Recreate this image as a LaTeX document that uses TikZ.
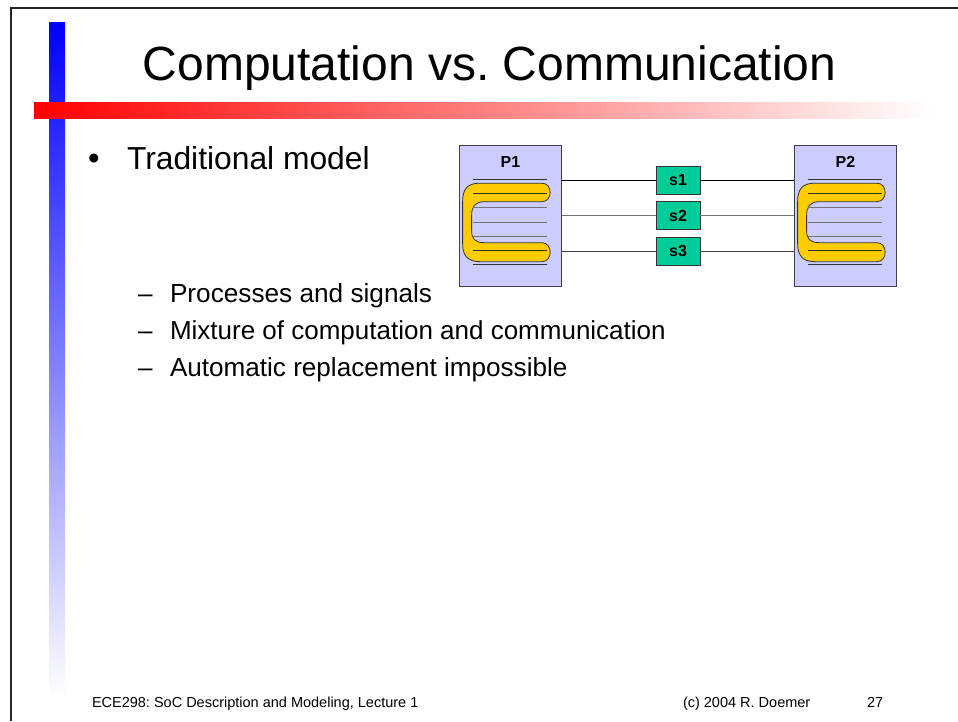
\documentclass[tikz,border=0pt]{standalone}
\usepackage{fontspec}
\setmainfont{Liberation Sans}
\usetikzlibrary{calc}
\frenchspacing

\definecolor{procfill}{HTML}{CCCCFF}
\definecolor{sigfill}{HTML}{00CC99}
\definecolor{ctrlfill}{HTML}{FFCC00}
\newcommand{\fsz}[1]{\fontsize{#1}{#1}\selectfont}

\begin{document}
\begin{tikzpicture}[x=1pt,y=-1pt,
  txt/.style={inner sep=0pt, outer sep=0pt, anchor=base west},
  proc/.style={draw=black!75, line width=0.8pt, fill=procfill,
    minimum width=102.4pt, minimum height=141.7pt, inner sep=0pt},
  plabel/.style={inner sep=0pt, anchor=base, font=\bfseries\fsz{16}},
  sig/.style={draw=black!80, line width=0.8pt, fill=sigfill,
    minimum width=44pt, minimum height=28pt, inner sep=0pt,
    font=\bfseries\fsz{16}},
  wire/.style={line width=1pt},
  rule/.style={line width=1pt, black!80},
  ctrl/.style={fill=ctrlfill, draw=black!80, line width=0.8pt}
]
\useasboundingbox (0,0) rectangle (958,721);
\fill[white] (0,0) rectangle (958,721);

% slide decoration: vertical blue fade and horizontal red fade
\shade[top color=blue, bottom color=white] (49,22) rectangle (65,698);
\shade[left color=red, right color=white] (34,102) rectangle (932,118);

% frame edges
\draw[line width=2pt, black!85] (958,7.5) -- (10.5,7.5) -- (10.5,721);

% title
\node[inner sep=0pt, anchor=base, font=\fsz{48}] (title) at (489.5,80)
  {Computation vs. Communication};

% bullet list
\node[txt, font=\fsz{33}] (b1) at (88,169) {\textbullet};
\node[txt, font=\fsz{31.8}] (t1) at (127,169) {Traditional model};
\node[txt, font=\fsz{26}] (d1) at (138,302) {–};
\node[txt, font=\fsz{26.2}] (t2) at (170,302) {Processes and signals};
\node[txt, font=\fsz{26}] (d2) at (138,339) {–};
\node[txt, font=\fsz{26}] (t3) at (170,339) {Mixture of computation and communication};
\node[txt, font=\fsz{26}] (d3) at (138,376) {–};
\node[txt, font=\fsz{26.1}] (t4) at (170,376) {Automatic replacement impossible};

% processes
\node[proc] (P1) at (510.5,215.9) {};
\node[proc] (P2) at (845.5,215.9) {};

\foreach \p in {P1,P2}{
  \begin{scope}[shift={(\p.north west)}]
    % control flow loop
    \path[ctrl] (21,38.5) -- (83,38.5)
      .. controls (94,38.5) and (94,57) .. (83,57)
      -- (25,57) .. controls (16,57.3) and (12.7,62) .. (12.7,71)
      -- (12.7,86) .. controls (12.7,94) and (16,98) .. (25,98)
      -- (83,98) .. controls (94,98) and (94,117) .. (83,117)
      -- (21,117) .. controls (8,117) and (3.7,110) .. (3.7,99)
      -- (3.7,57) .. controls (3.7,45) and (8,38.5) .. (21,38.5) -- cycle;
    % statement lines
    \foreach \yy in {35,49,106,120}
      \draw[rule] (14,\yy) -- (88,\yy);
    \foreach \yy in {63,77.5,92}
      \draw[rule, black!55] (14,\yy) -- (88,\yy);
  \end{scope}
}
\node[plabel] (P1t) at ([yshift=-23pt]P1.north) {P1};
\node[plabel] (P2t) at ([yshift=-23pt]P2.north) {P2};

% signals
\node[sig] (s1) at (678,180) {s1};
\node[sig] (s2) at (678,215.5) {s2};
\node[sig] (s3) at (678,251) {s3};

\draw[wire] (P1.east |- s1.west) -- (s1.west);
\draw[wire] (s1.east) -- (P2.west |- s1.east);
\draw[wire, black!55] (P1.east |- s2.west) -- (s2.west);
\draw[wire, black!55] (s2.east) -- (P2.west |- s2.east);
\draw[wire, black!75] (P1.east |- s3.west) -- (s3.west);
\draw[wire, black!75] (s3.east) -- (P2.west |- s3.east);

% footer
\node[txt, font=\fsz{14.5}] (f1) at (92,707) {ECE298: SoC Description and Modeling, Lecture 1};
\node[txt, font=\fsz{14.5}] (f2) at (683,707) {(c) 2004 R. Doemer};
\node[txt, font=\fsz{14.5}] (f3) at (867,707) {27};
\end{tikzpicture}
\end{document}
